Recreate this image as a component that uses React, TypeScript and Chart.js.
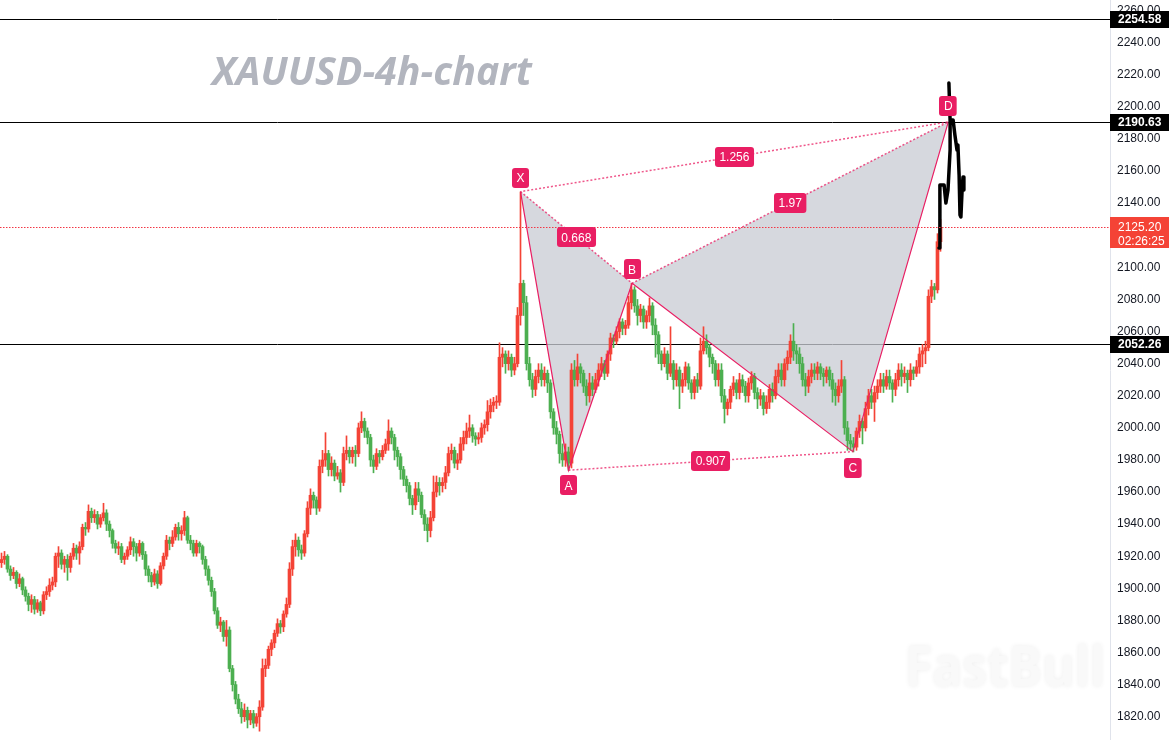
import React, { useEffect, useRef } from 'react';
import { Chart, registerables } from 'chart.js';

Chart.register(...registerables);

// ---- candle data (4h XAUUSD) ----
const firstOpen = 1916;
const closes = [
  1918,1920,1912,1908,1910,1903,1906,1899,1895,1890,
  1893,1887,1891,1886,1896,1898,1902,1904,1920,1922,
  1915,1918,1913,1920,1925,1922,1926,1938,1937,1948,
  1944,1946,1940,1944,1947,1940,1936,1928,1925,1926,
  1918,1920,1924,1929,1926,1922,1928,1921,1912,1908,
  1904,1909,1903,1914,1920,1930,1928,1932,1938,1934,
  1936,1944,1930,1928,1922,1928,1926,1918,1912,1905,
  1898,1886,1877,1879,1870,1874,1850,1840,1831,1825,
  1820,1824,1818,1822,1816,1820,1826,1850,1852,1862,
  1866,1872,1878,1876,1884,1890,1912,1926,1930,1924,
  1922,1934,1950,1958,1955,1950,1976,1980,1984,1974,
  1978,1970,1972,1966,1984,1986,1982,1986,1984,2000,
  2004,1998,1994,1980,1976,1984,1982,1986,1990,1998,
  1994,1986,1982,1974,1968,1964,1956,1952,1962,1958,
  1946,1940,1936,1944,1960,1966,1964,1966,1972,1984,
  1986,1978,1980,1990,1994,1998,2000,1995,1993,1994,
  2000,2002,2010,2014,2016,2016,2044,2046,2040,2044,
  2036,2040,2070,2090,2078,2040,2030,2024,2032,2036,
  2030,2034,2028,2010,2000,1996,1984,1980,1985,1978,
  2036,2030,2038,2034,2026,2020,2028,2024,2030,2036,
  2040,2034,2046,2056,2054,2060,2066,2062,2064,2078,
  2086,2076,2070,2074,2066,2070,2076,2064,2058,2046,
  2040,2046,2034,2040,2030,2036,2026,2030,2038,2028,
  2022,2030,2026,2048,2054,2050,2044,2040,2030,2036,
  2020,2012,2016,2024,2028,2022,2030,2026,2020,2028,
  2032,2022,2018,2020,2012,2016,2024,2020,2032,2036,
  2030,2040,2044,2054,2048,2046,2040,2030,2026,2032,
  2036,2034,2038,2034,2032,2036,2030,2024,2020,2026,
  2030,2000,1992,1990,1988,1998,2004,2000,2012,2020,
  2016,2022,2026,2030,2026,2032,2028,2024,2030,2036,
  2032,2034,2030,2036,2034,2038,2046,2048,2050,2082,
  2088,2086,2116,2125,
];
const highs = [
  1922,1923,1921,1914,1913,1911,1909,1907,1901,1897,
  1896,1895,1893,1892,1898,1901,1906,1907,1922,1926,
  1924,1920,1921,1922,1928,1927,1929,1940,1941,1952,
  1950,1949,1948,1946,1953,1949,1942,1937,1930,1929,
  1928,1922,1926,1932,1931,1928,1930,1929,1923,1914,
  1910,1912,1911,1916,1922,1933,1932,1936,1940,1941,
  1939,1948,1945,1933,1930,1930,1929,1927,1920,1914,
  1907,1900,1888,1882,1880,1880,1876,1852,1842,1834,
  1829,1828,1826,1824,1824,1822,1830,1856,1856,1864,
  1868,1874,1881,1880,1886,1894,1916,1930,1934,1932,
  1927,1936,1954,1962,1960,1957,1980,1986,1997,1986,
  1982,1980,1976,1974,1988,1995,1988,1988,1989,2003,
  2010,2006,2000,1996,1983,1987,1986,1989,1993,2005,
  2000,1996,1988,1984,1976,1970,1966,1958,1966,1966,
  1960,1949,1944,1948,1970,1970,1969,1969,1976,1988,
  1990,1988,1984,1994,1998,2003,2008,2002,1997,1997,
  2003,2005,2017,2018,2019,2020,2053,2050,2048,2048,
  2046,2044,2075,2147,2092,2082,2044,2034,2036,2040,
  2040,2038,2036,2030,2012,2004,1998,1990,1990,1988,
  2040,2042,2046,2040,2036,2030,2034,2032,2034,2040,
  2044,2042,2048,2059,2058,2063,2068,2068,2067,2082,
  2090,2088,2080,2077,2076,2073,2081,2078,2068,2060,
  2048,2050,2048,2063,2042,2040,2038,2034,2041,2040,
  2030,2032,2034,2056,2063,2058,2052,2046,2042,2040,
  2040,2024,2018,2026,2032,2030,2034,2033,2029,2031,
  2035,2034,2025,2024,2022,2020,2027,2028,2036,2040,
  2040,2043,2048,2058,2065,2052,2050,2044,2034,2036,
  2040,2040,2041,2040,2037,2038,2038,2034,2028,2030,
  2042,2032,2004,1996,1994,2000,2008,2006,2016,2024,
  2024,2026,2030,2034,2034,2036,2036,2030,2034,2040,
  2040,2038,2036,2040,2038,2042,2050,2052,2054,2086,
  2092,2090,2121,2130,
];
const lows = [
  1913,1915,1910,1905,1906,1900,1901,1896,1892,1886,
  1885,1884,1885,1883,1884,1893,1895,1899,1901,1913,
  1912,1910,1905,1910,1918,1918,1915,1924,1933,1935,
  1941,1941,1937,1938,1942,1936,1932,1925,1922,1921,
  1916,1915,1918,1921,1920,1917,1920,1918,1908,1904,
  1901,1902,1900,1902,1912,1918,1924,1926,1930,1930,
  1930,1933,1928,1924,1920,1920,1922,1915,1908,1902,
  1895,1884,1875,1873,1867,1864,1848,1836,1828,1822,
  1816,1817,1813,1815,1813,1814,1811,1824,1845,1850,
  1858,1863,1870,1872,1873,1882,1888,1908,1920,1920,
  1918,1920,1932,1946,1950,1946,1948,1972,1976,1970,
  1970,1967,1968,1960,1964,1980,1978,1978,1976,1982,
  1997,1994,1990,1976,1972,1974,1978,1980,1984,1986,
  1990,1980,1976,1968,1964,1960,1952,1946,1949,1954,
  1944,1936,1929,1932,1942,1957,1958,1960,1962,1970,
  1980,1975,1974,1978,1986,1990,1994,1991,1989,1990,
  1991,1996,1998,2006,2010,2012,2014,2038,2034,2036,
  2032,2033,2038,2064,2070,2036,2026,2019,2020,2028,
  2026,2026,2022,2006,1996,1990,1978,1976,1976,1973.5,
  1975,2026,2026,2028,2022,2014,2016,2020,2022,2026,
  2032,2030,2032,2042,2050,2052,2056,2058,2058,2062,
  2074,2072,2064,2066,2062,2062,2066,2058,2044,2040,
  2036,2038,2030,2032,2024,2026,2012,2022,2026,2024,
  2018,2018,2022,2024,2046,2046,2038,2034,2026,2026,
  2016,2003,2008,2012,2020,2018,2018,2022,2016,2016,
  2024,2018,2012,2014,2008,2009,2012,2016,2018,2028,
  2026,2026,2036,2040,2042,2040,2034,2026,2020,2022,
  2028,2030,2030,2030,2026,2028,2026,2016,2014,2016,
  2022,1996,1986,1986,1985,1986,1994,1990,1998,2008,
  2012,2004,2018,2022,2022,2024,2024,2016,2020,2026,
  2026,2028,2022,2026,2030,2032,2034,2038,2040,2048,
  2078,2080,2084,2110,
];

// ---- XABCD harmonic pattern ----
const patternNames = ['X', 'A', 'B', 'C', 'D'];
const patternIndex = [173, 189, 210.2, 283.8, 315.6];
const patternPrice = [2147.2, 1973.6, 2090.1, 1985.2, 2190.63];
const patternLabelOffset = [-14, 15, -14, 16, -16];
const ratioLabels = ['0.668', '1.256', '1.97', '0.907'];
const ratioFrom = [0, 0, 2, 1];
const ratioTo = [2, 4, 4, 3];

// ---- hand-drawn projection path ----
const drawIndex = [312.5, 312.8, 314.2, 314.8, 315.5, 316.2, 316.2, 315.8, 316.2, 317.2, 317.8, 318.5, 318.8, 319.2, 319.5, 319.8, 320.2, 320.5, 320.8];
const drawPrice = [2112, 2151.3, 2151.3, 2140.1, 2148.2, 2173.1, 2191.8, 2214.9, 2191.8, 2191.8, 2182.5, 2173.1, 2176.3, 2157.6, 2132.6, 2131.4, 2148.2, 2156.3, 2148.2];

// ---- horizontal levels & axis ----
const levelLines = [2254.58, 2190.63, 2052.26];
const lastPrice = 2125.2;
const countdown = '02:26:25';
const yMin = 1805.5;
const yMax = 2266.6;
const yStep = 20;
const titleText = 'XAUUSD-4h-chart';
const watermarkText = 'FastBull';

const UP = '#f44336';
const DOWN = '#4caf50';
const PINK = '#e91e63';
const AXIS_FONT = '"Liberation Sans", Arial, sans-serif';

const opens = closes.map((_, i) => (i === 0 ? firstOpen : closes[i - 1]));
const candleColors = closes.map((c, i) => (c >= opens[i] ? UP : DOWN));

const pt = (k: number) => ({ x: patternIndex[k], y: patternPrice[k] });

const overlayPlugin = {
  id: 'overlay',
  beforeDatasetsDraw(chart: any) {
    const { ctx, chartArea, scales } = chart;
    const y = scales.y;
    ctx.save();
    // title
    ctx.font = 'italic bold 39px "Open Sans", sans-serif';
    ctx.fillStyle = '#b2b5be';
    ctx.textBaseline = 'alphabetic';
    ctx.textAlign = 'left';
    const tw = ctx.measureText(titleText).width;
    ctx.save();
    ctx.translate(212, 85);
    ctx.scale(320 / tw, 1);
    ctx.fillText(titleText, 0, 0);
    ctx.restore();
    // watermark
    ctx.font = 'bold 56px "Open Sans", sans-serif';
    const ww = ctx.measureText(watermarkText).width;
    ctx.save();
    ctx.translate(905, 686);
    ctx.scale(200 / ww, 1);
    ctx.shadowColor = 'rgba(0,0,0,0.07)';
    ctx.shadowBlur = 5;
    ctx.fillStyle = '#f9f9f9';
    ctx.fillText(watermarkText, 0, 0);
    ctx.restore();
    // horizontal level lines
    ctx.strokeStyle = '#000';
    ctx.lineWidth = 1;
    levelLines.forEach((v) => {
      const py = Math.round(y.getPixelForValue(v)) + 0.5;
      ctx.beginPath();
      ctx.moveTo(chartArea.left, py);
      ctx.lineTo(chartArea.right, py);
      ctx.stroke();
    });
    ctx.restore();
  },
  afterDatasetsDraw(chart: any) {
    const { ctx, chartArea, scales } = chart;
    const x = scales.x;
    const y = scales.y;
    ctx.save();
    // last price dotted line (crisp red dots)
    const lp = Math.round(y.getPixelForValue(lastPrice));
    ctx.fillStyle = '#f23645';
    for (let px = Math.floor(chartArea.left); px < chartArea.right; px += 3) {
      ctx.fillRect(px, lp, 1.5, 1);
    }

    const tag = (cx: number, cy: number, text: string) => {
      ctx.font = `12px ${AXIS_FONT}`;
      const w = ctx.measureText(text).width + 9;
      const h = 20;
      ctx.fillStyle = PINK;
      ctx.beginPath();
      ctx.roundRect(Math.round(cx - w / 2), Math.round(cy - h / 2), w, h, 3);
      ctx.fill();
      ctx.fillStyle = '#fff';
      ctx.textAlign = 'center';
      ctx.textBaseline = 'middle';
      ctx.fillText(text, cx, cy + 1);
    };
    // ratio labels
    ratioLabels.forEach((t, k) => {
      const a = ratioFrom[k];
      const b = ratioTo[k];
      const cx = (x.getPixelForValue(patternIndex[a]) + x.getPixelForValue(patternIndex[b])) / 2;
      const cy = (y.getPixelForValue(patternPrice[a]) + y.getPixelForValue(patternPrice[b])) / 2;
      tag(cx, cy, t);
    });
    // point labels
    patternNames.forEach((n, k) => {
      const cx = x.getPixelForValue(patternIndex[k]);
      const cy = y.getPixelForValue(patternPrice[k]) + patternLabelOffset[k];
      tag(cx, cy, n);
    });

    // axis price boxes
    const bx = chartArea.right;
    const bw = 59;
    ctx.textAlign = 'left';
    ctx.textBaseline = 'middle';
    levelLines.forEach((v) => {
      const py = Math.round(y.getPixelForValue(v));
      ctx.fillStyle = '#000';
      ctx.fillRect(bx, py - 8, bw, 17);
      ctx.fillStyle = '#fff';
      ctx.font = `bold 12px ${AXIS_FONT}`;
      ctx.fillText(v.toFixed(2), bx + 8, py + 1);
    });
    const rp = Math.round(y.getPixelForValue(lastPrice));
    ctx.fillStyle = UP;
    ctx.fillRect(bx, rp - 10, bw, 31);
    ctx.fillStyle = '#fff';
    ctx.font = `12px ${AXIS_FONT}`;
    ctx.fillText(lastPrice.toFixed(2), bx + 8, rp + 1);
    ctx.fillText(countdown, bx + 8, rp + 15);
    ctx.restore();
  },
};

export default function App() {
  const ref = useRef<HTMLCanvasElement | null>(null);

  useEffect(() => {
    document.body.style.margin = '0';
    const canvas = ref.current;
    if (!canvas) return;

    const wickData = closes.map((_, i) => ({ x: i, y: [lows[i], highs[i]] }));
    const bodyData = closes.map((c, i) => ({ x: i, y: [opens[i], c] }));

    const chart = new Chart(canvas, {
      type: 'bar',
      data: {
        datasets: [
          {
            type: 'line',
            label: 'drawing',
            data: drawIndex.map((v, i) => ({ x: v, y: drawPrice[i] })),
            borderColor: '#000',
            borderWidth: 3.5,
            borderJoinStyle: 'round',
            borderCapStyle: 'round',
            pointRadius: 0,
            tension: 0,
            fill: false,
            order: 0,
          } as any,
          {
            type: 'line',
            label: 'legs',
            data: [0, 1, 2, 3, 4].map(pt),
            borderColor: PINK,
            borderWidth: 1.2,
            pointRadius: 0,
            tension: 0,
            fill: false,
            order: 1,
          } as any,
          {
            type: 'line',
            label: 'dotted1',
            data: [pt(0), pt(2), pt(4), pt(0)],
            borderColor: 'rgba(233,30,99,0.75)',
            borderWidth: 1.5,
            borderDash: [2, 2],
            pointRadius: 0,
            tension: 0,
            fill: false,
            order: 1,
          } as any,
          {
            type: 'line',
            label: 'dotted2',
            data: [pt(1), pt(3)],
            borderColor: 'rgba(233,30,99,0.75)',
            borderWidth: 1.5,
            borderDash: [2, 2],
            pointRadius: 0,
            tension: 0,
            fill: false,
            order: 1,
          } as any,
          {
            type: 'bar',
            label: 'bodies',
            data: bodyData,
            backgroundColor: candleColors,
            borderWidth: 0,
            barThickness: 3,
            minBarLength: 1,
            stack: 'c',
            order: 2,
          } as any,
          {
            type: 'bar',
            label: 'wicks',
            data: wickData,
            backgroundColor: candleColors,
            borderWidth: 0,
            barThickness: 1,
            stack: 'c',
            order: 3,
          } as any,
          {
            type: 'line',
            label: 'xab',
            data: [pt(0), pt(1), pt(2)],
            borderWidth: 0,
            borderColor: 'rgba(0,0,0,0)',
            backgroundColor: 'rgba(201,204,212,0.76)',
            pointRadius: 0,
            tension: 0,
            fill: 'shape',
            order: 5,
          } as any,
          {
            type: 'line',
            label: 'bcd',
            data: [pt(2), pt(3), pt(4)],
            borderWidth: 0,
            borderColor: 'rgba(0,0,0,0)',
            backgroundColor: 'rgba(201,204,212,0.76)',
            pointRadius: 0,
            tension: 0,
            fill: 'shape',
            order: 5,
          } as any,
        ],
      },
      options: {
        responsive: false,
        animation: false,
        events: [],
        layout: { padding: 0 },
        plugins: {
          legend: { display: false },
          tooltip: { enabled: false },
          title: { display: false },
        },
        scales: {
          x: {
            type: 'linear',
            display: false,
            offset: false,
            min: -0.5,
            max: 369.5,
          },
          y: {
            type: 'linear',
            position: 'right',
            min: yMin,
            max: yMax,
            stacked: false,
            afterFit: (s: any) => {
              s.width = 63;
              s.paddingTop = 0;
              s.paddingBottom = 0;
            },
            grid: { display: true, drawOnChartArea: false, drawTicks: false },
            border: { display: true, color: '#e0e3eb' },
            ticks: {
              stepSize: yStep,
              includeBounds: false,
              autoSkip: false,
              padding: 7,
              color: '#131722',
              font: { family: AXIS_FONT, size: 12 },
              callback: (v: any) => Number(v).toFixed(2),
            },
          },
        },
      } as any,
      plugins: [overlayPlugin],
    });

    return () => {
      chart.destroy();
    };
  }, []);

  return (
    <div style={{ width: 1173, height: 740, background: '#fff' }}>
      <canvas ref={ref} width={1173} height={740} style={{ display: 'block' }} />
    </div>
  );
}
